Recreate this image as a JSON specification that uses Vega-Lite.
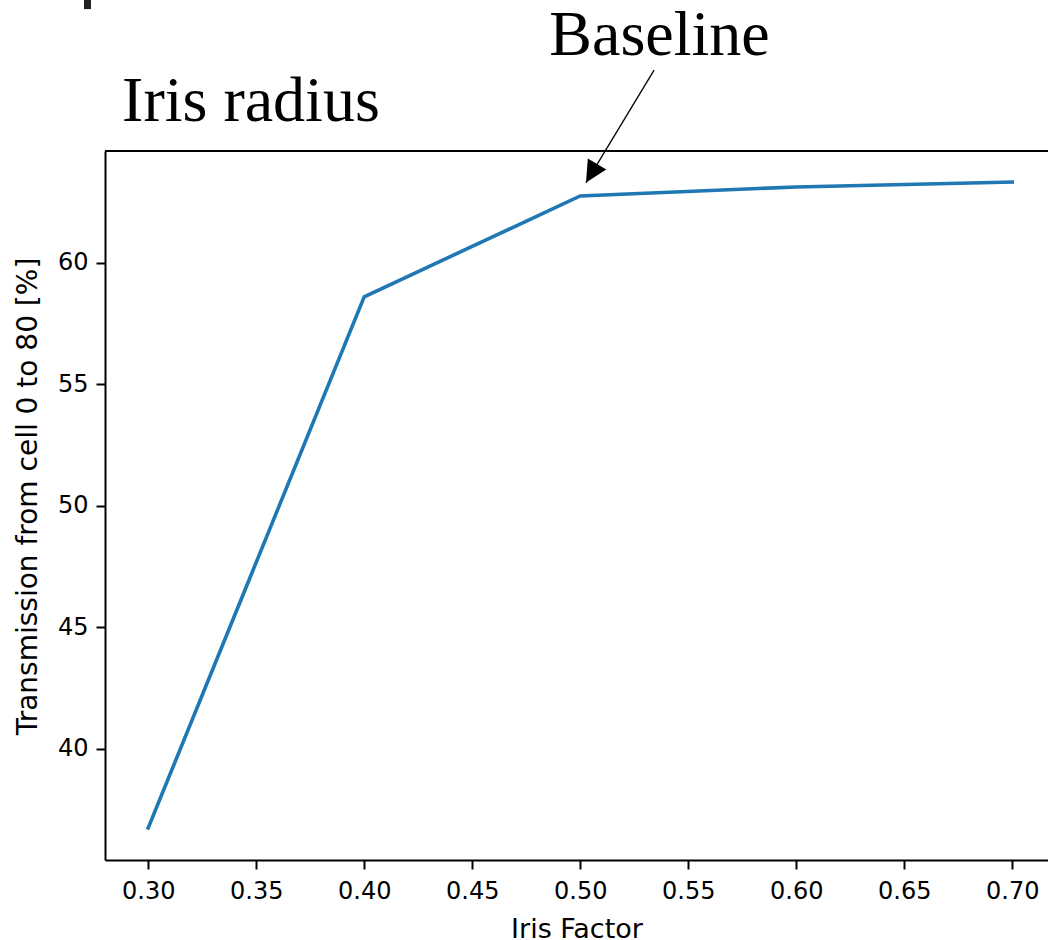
{
  "$schema": "https://vega.github.io/schema/vega-lite/v6.json",
  "autosize": "none",
  "padding": {"left": 105, "top": 151, "right": 0, "bottom": 80},
  "width": 943,
  "height": 709,
  "background": "white",
  "view": {"stroke": null},
  "config": {
    "font": "DejaVu Sans",
    "axis": {
      "grid": false,
      "domainColor": "#000000",
      "domainWidth": 2,
      "tickColor": "#000000",
      "tickWidth": 2,
      "tickSize": 9,
      "labelFont": "DejaVu Sans",
      "labelFontSize": 24,
      "labelColor": "#000000",
      "titleFont": "DejaVu Sans",
      "titleFontSize": 27,
      "titleFontWeight": "normal",
      "titleColor": "#000000"
    }
  },
  "datasets": {
    "transmission": [
      {"iris_factor": 0.3, "transmission": 36.74},
      {"iris_factor": 0.4, "transmission": 58.6},
      {"iris_factor": 0.5, "transmission": 62.75},
      {"iris_factor": 0.6, "transmission": 63.12},
      {"iris_factor": 0.7, "transmission": 63.32}
    ],
    "notes": [
      {"label": "Baseline", "x": 0.5367, "y": 68.55},
      {"label": "Iris radius", "x": 0.2879, "y": 65.83}
    ],
    "arrow": [
      {"x_tail": 0.5342, "y_tail": 67.93, "x_tip": 0.5027, "y_tip": 63.3}
    ],
    "frame_top": [
      {"y": 64.6}
    ],
    "mark_fragment": [
      {"x": 0.2719, "y_from": 70.44, "y_to": 71.2}
    ]
  },
  "layer": [
    {
      "data": {"name": "transmission"},
      "mark": {"type": "line", "color": "#1f77b4", "strokeWidth": 3.6, "strokeCap": "square"},
      "encoding": {
        "x": {
          "field": "iris_factor",
          "type": "quantitative",
          "scale": {"domain": [0.28, 0.71657], "nice": false, "zero": false},
          "axis": {
            "values": [0.3, 0.35, 0.4, 0.45, 0.5, 0.55, 0.6, 0.65, 0.7],
            "format": ".2f",
            "labelPadding": 10,
            "title": "Iris Factor",
            "titlePadding": 13
          }
        },
        "y": {
          "field": "transmission",
          "type": "quantitative",
          "scale": {"domain": [35.42, 64.6], "nice": false, "zero": false},
          "axis": {
            "values": [40, 45, 50, 55, 60],
            "format": "d",
            "labelPadding": 8,
            "title": "Transmission from cell 0 to 80 [%]",
            "titleFontSize": 28,
            "titlePadding": 15,
            "titleY": 345
          }
        }
      }
    },
    {
      "data": {"name": "frame_top"},
      "mark": {"type": "rule", "color": "#000000", "strokeWidth": 2},
      "encoding": {"y": {"field": "y", "type": "quantitative"}}
    },
    {
      "data": {"name": "arrow"},
      "mark": {"type": "rule", "color": "#000000", "strokeWidth": 1.3},
      "encoding": {
        "x": {"field": "x_tail", "type": "quantitative"},
        "y": {"field": "y_tail", "type": "quantitative"},
        "x2": {"field": "x_tip"},
        "y2": {"field": "y_tip"}
      }
    },
    {
      "data": {"name": "arrow"},
      "mark": {
        "type": "point",
        "shape": "M0,0 L-0.5,1 L0.5,1 Z",
        "filled": true,
        "color": "#000000",
        "opacity": 1,
        "size": 1850,
        "angle": 210.8
      },
      "encoding": {
        "x": {"field": "x_tip", "type": "quantitative"},
        "y": {"field": "y_tip", "type": "quantitative"}
      }
    },
    {
      "data": {"name": "notes"},
      "transform": [{"filter": "datum.label === 'Baseline'"}],
      "mark": {"type": "text", "font": "Liberation Serif", "fontSize": 64, "align": "center", "baseline": "alphabetic", "color": "#000000"},
      "encoding": {
        "x": {"field": "x", "type": "quantitative"},
        "y": {"field": "y", "type": "quantitative"},
        "text": {"field": "label"}
      }
    },
    {
      "data": {"name": "notes"},
      "transform": [{"filter": "datum.label === 'Iris radius'"}],
      "mark": {"type": "text", "font": "Liberation Serif", "fontSize": 64, "align": "left", "baseline": "alphabetic", "color": "#000000"},
      "encoding": {
        "x": {"field": "x", "type": "quantitative"},
        "y": {"field": "y", "type": "quantitative"},
        "text": {"field": "label"}
      }
    },
    {
      "data": {"name": "mark_fragment"},
      "mark": {"type": "rule", "color": "#222222", "strokeWidth": 7},
      "encoding": {
        "x": {"field": "x", "type": "quantitative"},
        "y": {"field": "y_from", "type": "quantitative"},
        "y2": {"field": "y_to"}
      }
    }
  ]
}
